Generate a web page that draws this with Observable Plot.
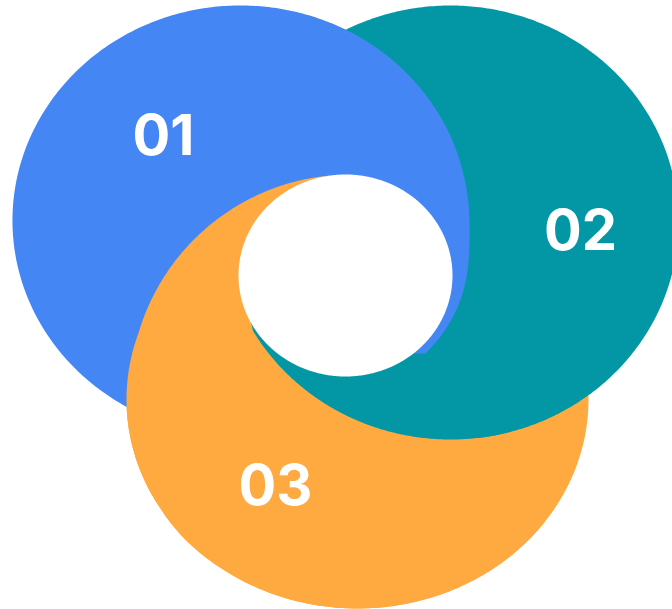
<!DOCTYPE html>
<html>
<head>
<meta charset="utf-8">
<script src="https://cdn.jsdelivr.net/npm/d3@7"></script>
<script src="https://cdn.jsdelivr.net/npm/@observablehq/plot@0.6"></script>
<style>
html,body{margin:0;padding:0;background:#fff;overflow:hidden}
#chart svg{display:block}
</style>
</head>
<body>
<div id="chart"></div>
<script>
// ---- data ----
const stepLabels = ["01", "02", "03"];
const stepKeys = ["blue", "teal", "orange"];

// ---- styles ----
const palette = {blue: "#4487f4", teal: "#0397a6", orange: "#feaa41"};

// ---- layout (pixel space, y down) ----
const W = 672, H = 609;
const hub = {x: 345, y: 275};
const holeShape = {cx: 345, cy: 275, rx: 107, ry: 101};
const outer = {
  blue:   {cx: 240, cy: 220, rx: 228, ry: 215},
  teal:   {cx: 450, cy: 222, rx: 228, ry: 217},
  orange: {cx: 357, cy: 399, rx: 231, ry: 209}
};
const blueTail = {cx: 340, cy: 257, rx: 126, ry: 126};
const orangeLead = {cx: 350, cy: 395, rx: 221, ry: 221};
const labelAt = {blue: [163, 137], teal: [580, 232], orange: [275, 487]};
// sector angles (degrees, screen orientation)
const A_BLUE_TIP = 44, A_BLUE_END = 50, A_TEAL_TAPER = 149, A_TEAL_END = 155, A_ORANGE_END = 258;

const rad = d => d * Math.PI / 180;
function hit(e, th) {
  const dx = Math.cos(th), dy = Math.sin(th);
  const ox = hub.x - e.cx, oy = hub.y - e.cy;
  const a = (dx / e.rx) ** 2 + (dy / e.ry) ** 2;
  const b = 2 * (ox * dx / e.rx ** 2 + oy * dy / e.ry ** 2);
  const c = (ox / e.rx) ** 2 + (oy / e.ry) ** 2 - 1;
  return (-b + Math.sqrt(b * b - 4 * a * c)) / (2 * a);
}
function smooth(t) { t = Math.max(0, Math.min(1, t)); return t * t * (3 - 2 * t); }
// smooth maximum: equals max(a, b) away from the crossing, rounded near it
function smax(a, b, k) { return (a + b + Math.sqrt((a - b) ** 2 + k * k)) / 2; }
function normDeg(d) { return ((d % 360) + 360) % 360; }
const rho = {
  blue: th => smax(hit(outer.blue, th), hit(blueTail, th), 6),
  teal: th => hit(outer.teal, th),
  orange: th => {
    const e = hit(outer.orange, th), c = hit(orangeLead, th);
    const d = normDeg(th * 180 / Math.PI);
    // leading edge (upper-left) follows the circle, the rest the ellipse
    const w = d < 200 ? smooth((d - 110) / 40) : 1 - smooth((d - 290) / 30);
    return w * Math.max(e, c) + (1 - w) * e;
  },
  hole: th => hit(holeShape, th)
};
const P = (deg, r) => ({x: hub.x + r * Math.cos(rad(deg)), y: hub.y + r * Math.sin(rad(deg))});
function arc(key, d0, d1) {
  const n = Math.max(2, Math.ceil(Math.abs(d1 - d0) * 2));
  const out = [];
  for (let i = 0; i <= n; i++) {
    const d = d0 + (d1 - d0) * i / n;
    out.push(P(d, rho[key](rad(d))));
  }
  return out;
}
const center = {x: hub.x, y: hub.y};

const fullBlue = arc("blue", 0, 360);
const fullTeal = arc("teal", 0, 360);
const fullOrange = arc("orange", 0, 360);
const holePoly = arc("hole", 0, 360);
// orange lies above blue in its own sector and the teal sector
const orangeTop = [center, ...arc("orange", A_BLUE_END + 1, A_ORANGE_END), center];
// teal lies above blue and orange in its sector, with tapered ends
const tealTop = [
  center,
  P(A_BLUE_END, rho.hole(rad(A_BLUE_END)) - 2),
  P(A_BLUE_TIP, rho.blue(rad(A_BLUE_TIP)) + 1),
  ...arc("teal", A_BLUE_TIP, A_TEAL_TAPER),
  P(A_TEAL_END, rho.hole(rad(A_TEAL_END)) - 1),
  center
];

const labels = stepKeys.map((k, i) => ({label: stepLabels[i], x: labelAt[k][0], y: labelAt[k][1]}));

const shape = (pts, color) => Plot.line(pts, {x: "x", y: "y", fill: color, stroke: "none", curve: "linear"});

const chart = Plot.plot({
  width: W,
  height: H,
  margin: 0,
  x: {domain: [0, W], range: [0, W], axis: null},
  y: {domain: [0, H], range: [0, H], axis: null},
  style: {background: "#fff", overflow: "hidden"},
  marks: [
    shape(fullOrange, palette.orange),
    shape(fullTeal, palette.teal),
    shape(fullBlue, palette.blue),
    shape(orangeTop, palette.orange),
    shape(tealTop, palette.teal),
    shape(holePoly, "#fff"),
    Plot.text(labels, {
      x: "x", y: "y", text: "label",
      fill: "#fff", fontSize: 56, fontWeight: 700,
      fontFamily: "Inter, 'Open Sans', sans-serif",
      textAnchor: "middle", lineAnchor: "middle"
    })
  ]
});
document.getElementById("chart").appendChild(chart);
</script>
</body>
</html>
